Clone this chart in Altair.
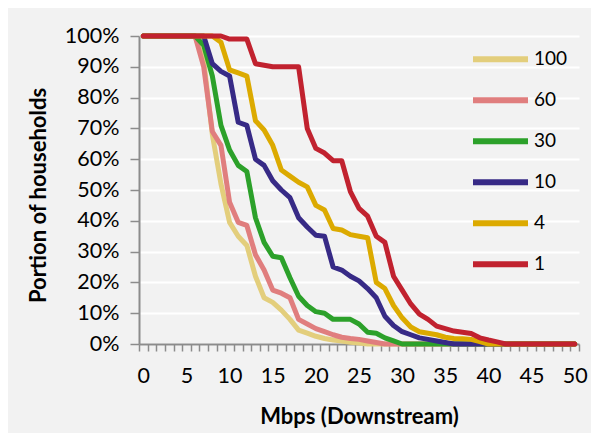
import altair as alt
import pandas as pd

# ---------------- data ----------------
mbps = [0, 1, 2, 3, 4, 5, 6, 7, 8, 9, 10, 11, 12, 13, 14, 15, 16, 17, 18, 19, 20,
        21, 22, 23, 24, 25, 26, 27, 28, 29, 30, 31, 32, 33, 34, 35, 36, 37, 38, 39, 40,
        41, 42, 43, 44, 45, 46, 47, 48, 49, 50]

series = ["100", "60", "30", "10", "4", "1"]
colors = ["#E3CE7C", "#E07E7E", "#2CA12A", "#372A86", "#DCAA00", "#C1222F"]

s100 = [100, 100, 100, 100, 100, 100, 100, 92, 68, 52, 39.5, 35, 32, 22, 15, 13.5, 11, 8, 4.5, 3.5, 2.5,
        1.8, 1.3, 1, 0.6, 0.3, 0, 0, 0, 0, 0, 0, 0, 0, 0, 0, 0, 0, 0, 0, 0,
        0, 0, 0, 0, 0, 0, 0, 0, 0, 0]
s60 = [100, 100, 100, 100, 100, 100, 100, 90, 69, 64.5, 46, 39.5, 38.5, 29, 24, 17.5, 16.5, 15, 8, 6.5, 5,
       4, 3, 2.2, 1.8, 1.5, 1, 0.5, 0, 0, 0, 0, 0, 0, 0, 0, 0, 0, 0, 0, 0,
       0, 0, 0, 0, 0, 0, 0, 0, 0, 0]
s30 = [100, 100, 100, 100, 100, 100, 100, 97, 87, 71, 63, 58, 56, 41, 33, 28.5, 28, 21.5, 15.5, 12.5, 10.5,
       10, 8, 8, 8, 6.5, 3.8, 3.5, 2, 1, 0, 0, 0, 0, 0, 0, 0, 0, 0, 0, 0,
       0, 0, 0, 0, 0, 0, 0, 0, 0, 0]
s10 = [100, 100, 100, 100, 100, 100, 100, 100, 91, 88.5, 87, 72, 71, 60, 58, 53, 50, 47.5, 41, 38, 35.3,
       35, 25, 24, 22, 20.5, 18, 15, 9, 6, 4, 3, 2, 1.5, 1, 0.5, 0, 0, 0, 0, 0,
       0, 0, 0, 0, 0, 0, 0, 0, 0, 0]
s4 = [100, 100, 100, 100, 100, 100, 100, 100, 100, 98, 89, 88, 87, 72.5, 69.5, 64.5, 56.5, 54.5, 52.5, 51, 45,
      43.5, 37.5, 37, 35.5, 35, 34.5, 20, 18, 12.5, 8.5, 5.5, 4, 3.5, 3, 2.2, 1.8, 1.7, 1.5, 0.8, 0,
      0, 0, 0, 0, 0, 0, 0, 0, 0, 0]
s1 = [100, 100, 100, 100, 100, 100, 100, 100, 100, 100, 99, 99, 99, 91, 90.5, 90, 90, 90, 90, 70, 63.5,
      62, 59.5, 59.5, 49.5, 44, 41.5, 35, 33, 22, 17.5, 13, 9.7, 8, 5.8, 5, 4.2, 3.8, 3.4, 2, 1.3,
      0.7, 0, 0, 0, 0, 0, 0, 0, 0, 0]

y_ticks = [0, 0.1, 0.2, 0.3, 0.4, 0.5, 0.6, 0.7, 0.8, 0.9, 1.0]
x_minor_ticks = [i - 0.5 for i in range(52)]

records = []
for k, (name, vals) in enumerate(zip(series, [s100, s60, s30, s10, s4, s1])):
    for x, v in zip(mbps, vals):
        records.append({"mbps": x, "share": v / 100.0, "series": name, "k": k})
df = pd.DataFrame(records)

FONT = "Lato"
AXIS_GRAY = "#8C8C8C"

x_label_expr = "((datum.value + 0.5) % 5 == 0) ? format(datum.value + 0.5, 'd') : ''"

chart = alt.Chart(df).mark_line(
    strokeWidth=5, strokeJoin="round", strokeCap="round"
).encode(
    x=alt.X(
        "mbps:Q",
        scale=alt.Scale(domain=[-0.5, 50.5], nice=False, zero=False),
        axis=alt.Axis(
            values=x_minor_ticks, labelExpr=x_label_expr, labelOffset=4.3,
            labelOverlap=False, labelFlush=False, grid=False,
            tickSize=7, tickWidth=1.5, tickColor=AXIS_GRAY,
            domainColor=AXIS_GRAY, domainWidth=2,
            labelFont=FONT, labelFontSize=21.5, labelColor="#000000", labelPadding=14,
            title="Mbps (Downstream)", titleFont=FONT, titleFontSize=22,
            titleFontWeight="bold", titleColor="#000000", titlePadding=20,
        ),
    ),
    y=alt.Y(
        "share:Q",
        scale=alt.Scale(domain=[0, 1], nice=False, zero=True),
        axis=alt.Axis(
            values=y_ticks, format=".0%", grid=True, gridColor="#FFFFFF", gridWidth=2,
            tickSize=9, tickWidth=1.5, tickColor=AXIS_GRAY,
            domainColor=AXIS_GRAY, domainWidth=2,
            labelFont=FONT, labelFontSize=21.5, labelColor="#000000", labelPadding=11,
            title="Portion of households", titleFont=FONT, titleFontSize=22,
            titleFontWeight="bold", titleColor="#000000", titlePadding=14, titleY=159,
        ),
    ),
    color=alt.Color(
        "series:N",
        scale=alt.Scale(domain=series, range=colors),
        legend=alt.Legend(
            title=None, orient="none", legendX=331, legendY=3, direction="vertical",
            symbolType="stroke", symbolSize=3025, symbolStrokeWidth=6,
            clipHeight=40.7, rowPadding=0, padding=0,
            labelFont=FONT, labelFontSize=19, labelColor="#000000", labelOffset=3,
        ),
    ),
).properties(
    width=440, height=308,
    autosize=alt.AutoSizeParams(type="none"),
    padding={"left": 131, "top": 28, "right": 12, "bottom": 89},
).configure(
    background="#F2F2F2"
).configure_view(
    stroke=None, fill="#F2F2F2"
)

chart.save("out.html", embed_options={"renderer": "svg", "actions": False})
